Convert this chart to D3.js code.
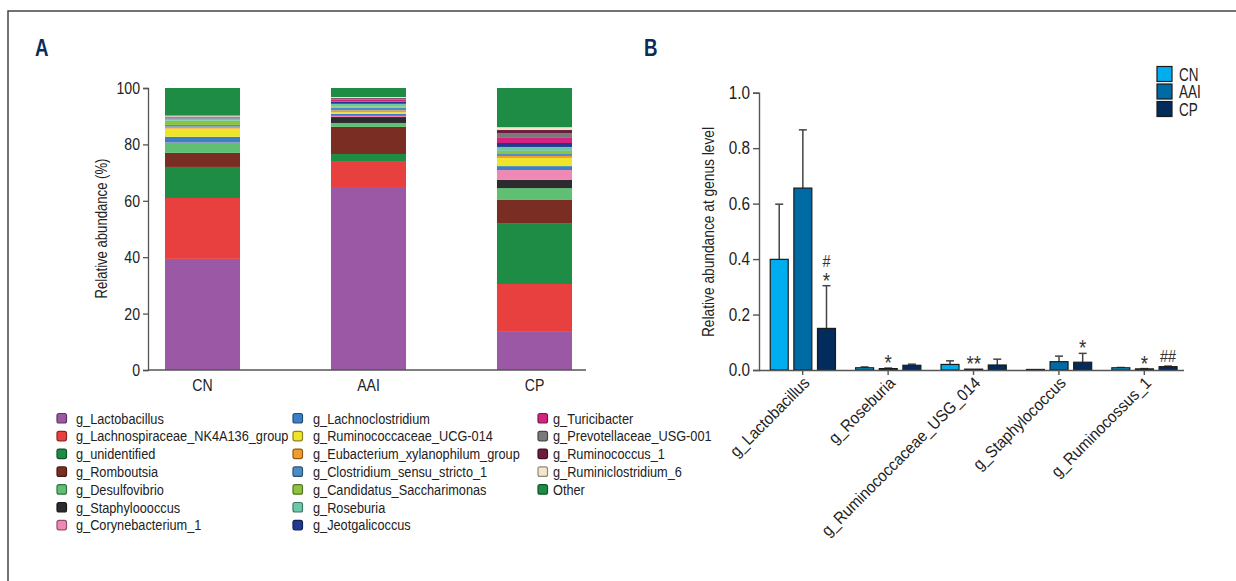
<!DOCTYPE html>
<html>
<head>
<meta charset="utf-8">
<script src="https://cdn.jsdelivr.net/npm/d3@7"></script>
<style>
  body { margin: 0; background: #fff; }
  svg { display: block; }
  text { font-family: "Liberation Sans", Arial, sans-serif; fill: #222; }
</style>
</head>
<body>
<svg id="chart" width="1236" height="581"></svg>
<script>
// ---------- Panel A data ----------
const groupsA = ["CN", "AAI", "CP"];
const taxa = [
  "g_Lactobacillus", "g_Lachnospiraceae_NK4A136_group", "g_unidentified", "g_Romboutsia",
  "g_Desulfovibrio", "g_Staphyloooccus", "g_Corynebacterium_1", "g_Lachnoclostridium",
  "g_Ruminococcaceae_UCG-014", "g_Eubacterium_xylanophilum_group", "g_Clostridium_sensu_stricto_1",
  "g_Candidatus_Saccharimonas", "g_Roseburia", "g_Jeotgalicoccus", "g_Turicibacter",
  "g_Prevotellaceae_USG-001", "g_Ruminococcus_1", "g_Ruminiclostridium_6", "Other"
];
const cnValues  = [39.4, 21.6, 11.0, 5.0, 3.5, 0.1, 0.1, 2.0, 2.9, 0.7, 0.6, 1.5, 0.8, 0.1, 0.3, 0.2, 0.1, 0.3, 9.8];
const aaiValues = [64.9, 9.2, 2.5, 9.6, 1.4, 2.1, 0.4, 0.7, 0.6, 0.7, 0.9, 0.5, 0.9, 0.8, 0.6, 0.4, 0.3, 0.3, 3.2];
const cpValues  = [13.8, 16.7, 21.6, 8.2, 4.2, 2.9, 3.5, 1.4, 2.9, 0.7, 0.7, 1.1, 1.4, 1.4, 1.8, 1.7, 1.1, 1.0, 13.9];
const yTicksA = [0, 20, 40, 60, 80, 100];

const taxaColors = [
  "#9b58a5", "#e8403f", "#1f8c45", "#7a2e23", "#5fbf72", "#2b2b30", "#ef88b2",
  "#3b80c6", "#efe42c", "#f29c2c", "#4d8cc9", "#8dc43f", "#6dc8a8", "#21398f",
  "#d4237f", "#7a7a7a", "#6c1d3d", "#f4e6cc", "#1f8c45"
];

// ---------- Panel B data ----------
const genera = ["g_Lactobacillus", "g_Roseburia", "g_Ruminococcaceae_USG_014", "g_Staphylococcus", "g_Ruminocossus_1"];
const seriesB = ["CN", "AAI", "CP"];
const cnMean  = [0.399, 0.008, 0.020, 0.002, 0.008];
const cnErr   = [0.598, 0.011, 0.033, 0.002, 0.009];
const aaiMean = [0.656, 0.005, 0.003, 0.030, 0.004];
const aaiErr  = [0.866, 0.007, 0.003, 0.050, 0.005];
const cpMean  = [0.150, 0.017, 0.018, 0.028, 0.012];
const cpErr   = [0.304, 0.021, 0.039, 0.060, 0.014];
const aaiSig  = [[], ["*"], ["**"], [], ["*"]];
const cpSig   = [["*", "#"], [], [], ["*"], ["##"]];
const yTicksB = [0, 0.2, 0.4, 0.6, 0.8, 1.0];
const seriesColors = ["#00aeef", "#006aa3", "#032b5b"];

const svg = d3.select("#chart");

// condensed text helper (horizontal squeeze)
function stext(parent, x, y, str, size, sx, anchor, rot) {
  return parent.append("text")
    .attr("transform", `translate(${x},${y}) rotate(${rot || 0}) scale(${sx},1)`)
    .attr("text-anchor", anchor || "start")
    .style("font-size", size + "px")
    .text(str);
}
function condenseAxis(ax, size, sx, offset) {
  ax.selectAll(".tick text")
    .attr("font-family", null)
    .style("font-size", size + "px").style("fill", "#222")
    .attr("x", -offset / sx)
    .attr("transform", `scale(${sx},1)`);
}

// frame
svg.append("path").attr("d", "M8,581 V11 H1236").attr("fill", "none").attr("stroke", "#444").attr("stroke-width", 1.5);

// panel letters
stext(svg, 35, 56, "A", 24, 0.78).style("font-weight", "bold").style("fill", "#0b2b58");
stext(svg, 644, 56, "B", 24, 0.78).style("font-weight", "bold").style("fill", "#0b2b58");

// ================= Panel A =================
const xA = d3.scaleBand().domain(groupsA).range([148, 589]).paddingInner(0.548).paddingOuter(0.1024);
const yA = d3.scaleLinear().domain([0, 100]).range([370, 88]);
const valuesA = { CN: cnValues, AAI: aaiValues, CP: cpValues };

const rowsA = groupsA.map(g => {
  const o = { group: g };
  taxa.forEach((t, i) => { o[t] = valuesA[g][i]; });
  return o;
});
const stackA = d3.stack().keys(taxa)(rowsA);
const gA = svg.append("g");
stackA.forEach((layer, i) => {
  gA.selectAll(null).data(layer).enter().append("rect")
    .attr("x", d => xA(d.data.group))
    .attr("width", xA.bandwidth())
    .attr("y", d => yA(d[1]))
    .attr("height", d => Math.max(0, yA(d[0]) - yA(d[1])))
    .attr("fill", taxaColors[i]);
});

const axA = svg.append("g").attr("transform", "translate(148,0)")
  .call(d3.axisLeft(yA).tickValues(yTicksA).tickSize(5).tickPadding(3));
axA.select(".domain").attr("stroke", "#555").attr("stroke-width", 1.3);
axA.selectAll(".tick line").attr("stroke", "#555").attr("stroke-width", 1.3);
condenseAxis(axA, 17, 0.83, 8);

svg.append("line").attr("x1", 148).attr("x2", 586).attr("y1", 370).attr("y2", 370)
  .attr("stroke", "#555").attr("stroke-width", 1.3);
groupsA.forEach(g => {
  stext(svg, xA(g) + xA.bandwidth() / 2, 391, g, 17, 0.83, "middle");
});
stext(svg, 107, 228.5, "Relative abundance (%)", 16, 0.82, "middle", -90);

// legend A
const legCols = [{ sx: 57, tx: 76, from: 0, to: 7 }, { sx: 293, tx: 313, from: 7, to: 14 }, { sx: 538, tx: 553, from: 14, to: 19 }];
legCols.forEach(c => {
  for (let i = c.from; i < c.to; i++) {
    const r = i - c.from;
    const cy = 418 + r * 17.8;
    svg.append("rect").attr("x", c.sx).attr("y", cy - 4.5).attr("width", 9.5).attr("height", 9.5)
      .attr("rx", 2).attr("fill", taxaColors[i])
      .attr("stroke", d3.color(taxaColors[i]).darker(1.5)).attr("stroke-width", 1.2);
    stext(svg, c.tx, cy + 5.5, taxa[i], 15, 0.85);
  }
});

// ================= Panel B =================
const xB = d3.scaleBand().domain(genera).range([760, 1187]).padding(0);
const xInner = d3.scaleBand().domain(seriesB).range([7.4, 78.3]).paddingInner(0.24).paddingOuter(0.12);
const yB = d3.scaleLinear().domain([0, 1]).range([370, 92.7]);
const means = { CN: cnMean, AAI: aaiMean, CP: cpMean };
const errs = { CN: cnErr, AAI: aaiErr, CP: cpErr };
const sigs = { CN: genera.map(() => []), AAI: aaiSig, CP: cpSig };

const gB = svg.append("g");
// error bars first
seriesB.forEach(s => {
  genera.forEach((g, gi) => {
    const cx = xB(g) + xInner(s) + xInner.bandwidth() / 2;
    const top = yB(errs[s][gi]);
    const base = yB(means[s][gi]);
    if (errs[s][gi] > means[s][gi]) {
      gB.append("line").attr("x1", cx).attr("x2", cx).attr("y1", base).attr("y2", top)
        .attr("stroke", "#444").attr("stroke-width", 1.5);
      gB.append("line").attr("x1", cx - 4).attr("x2", cx + 4).attr("y1", top).attr("y2", top)
        .attr("stroke", "#444").attr("stroke-width", 1.5);
    }
  });
});
seriesB.forEach((s, si) => {
  gB.selectAll(null).data(genera).enter().append("rect")
    .attr("x", g => xB(g) + xInner(s))
    .attr("width", xInner.bandwidth())
    .attr("y", (g, gi) => yB(means[s][gi]))
    .attr("height", (g, gi) => Math.max(1, yB(0) - yB(means[s][gi])))
    .attr("fill", seriesColors[si])
    .attr("stroke", "#1a1a1a").attr("stroke-width", 1.2);
});
// significance marks
seriesB.forEach(s => {
  genera.forEach((g, gi) => {
    const marks = sigs[s][gi];
    const cx = xB(g) + xInner(s) + xInner.bandwidth() / 2;
    const top = yB(Math.max(errs[s][gi], means[s][gi]));
    marks.forEach((m, k) => {
      const center = top - 10 - k * 15;
      const isStar = m.indexOf("*") >= 0;
      stext(gB, cx, isStar ? center + 12 : center + 6, m, isStar ? 22 : 17, 0.85, "middle")
        .style("fill", "#333");
    });
  });
});

const axB = svg.append("g").attr("transform", "translate(759,0)")
  .call(d3.axisLeft(yB).tickValues(yTicksB).tickFormat(d3.format(".1f")).tickSize(6).tickPadding(3));
axB.select(".domain").attr("stroke", "#555").attr("stroke-width", 1.4);
axB.selectAll(".tick line").attr("stroke", "#555").attr("stroke-width", 1.4);
condenseAxis(axB, 18, 0.85, 9);

const axBx = svg.append("g").attr("transform", "translate(0,370)")
  .call(d3.axisBottom(xB).tickSize(5).tickFormat(""));
axBx.select(".domain").attr("d", "M759,0.5H1184").attr("stroke", "#555").attr("stroke-width", 1.4);
axBx.selectAll(".tick line").attr("stroke", "#555").attr("stroke-width", 1.4);
genera.forEach(g => {
  const x = xB(g) + xB.bandwidth() / 2;
  stext(svg, x + 8, 384, g, 16.5, 0.92, "end", -45);
});
stext(svg, 714, 232, "Relative abundance at genus level", 16, 0.86, "middle", -90);

// legend B
seriesB.forEach((s, i) => {
  const top = 66.5 + i * 17.5;
  svg.append("rect").attr("x", 1157).attr("y", top).attr("width", 15).attr("height", 15)
    .attr("fill", seriesColors[i]).attr("stroke", "#1a1a1a").attr("stroke-width", 1.2);
  stext(svg, 1179, top + 14, s, 18, 0.75);
});
</script>
</body>
</html>
